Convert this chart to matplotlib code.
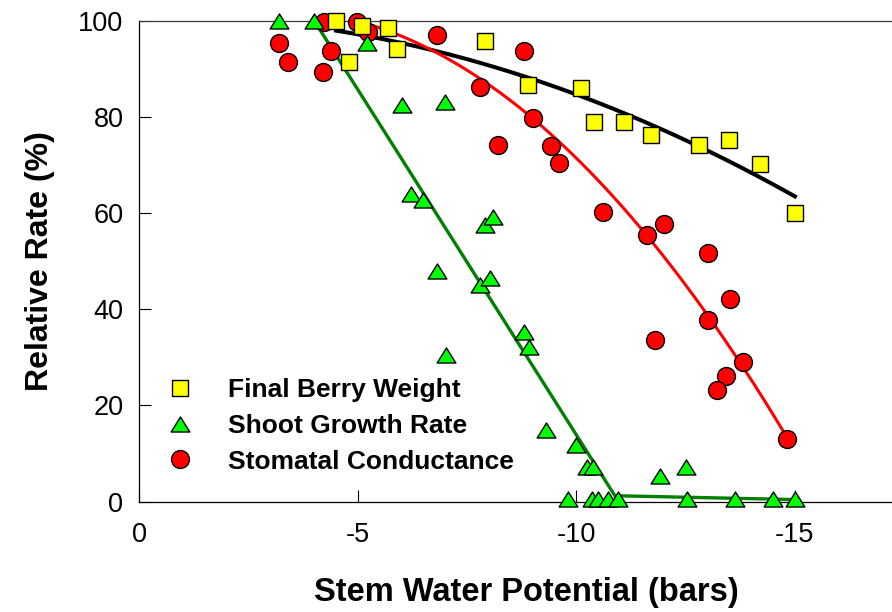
import matplotlib
matplotlib.use("Agg")
import matplotlib.pyplot as plt
import numpy as np
from matplotlib.path import Path

plt.rcParams["font.family"] = ["Liberation Sans", "DejaVu Sans"]

# Final berry weight (yellow squares)
berry_x = [-4.5, -4.8, -5.1, -5.7, -5.9, -7.9, -8.9, -10.1, -10.4, -11.1,
           -11.7, -12.8, -13.5, -14.2, -15.0]
berry_y = [100, 91.4, 99.0, 98.5, 94.2, 95.8, 86.6, 86.0, 79.0, 79.0,
           76.3, 74.1, 75.1, 70.1, 60.1]

# Shoot growth rate (green triangles)
shoot_x = [-3.2, -4.0, -5.2, -6.0, -7.0, -6.22, -6.5, -6.8, -7.02, -7.8,
           -8.02, -7.91, -8.1, -8.81, -8.91, -9.3, -10.0, -10.24, -10.39,
           -11.91, -12.51, -9.81, -10.35, -10.5, -10.73, -10.96, -12.52,
           -13.63, -14.5, -15.0]
shoot_y = [100, 100, 95.4, 82.4, 83.1, 64.0, 62.8, 48.0, 30.5, 45.1,
           46.5, 57.6, 59.2, 35.3, 32.2, 14.9, 11.7, 7.1, 7.1,
           5.3, 7.1, 0.5, 0.5, 0.5, 0.5, 0.5, 0.5,
           0.5, 0.5, 0.5]

# Stomatal conductance (red circles)
stoma_x = [-3.19, -3.4, -4.19, -4.39, -4.22, -4.97, -5.22, -6.8, -8.81, -7.8,
           -9.0, -8.21, -9.42, -9.61, -10.61, -11.62, -12.01, -13.02, -13.52,
           -13.02, -11.81, -13.82, -13.42, -13.22, -14.82]
stoma_y = [95.3, 91.5, 89.4, 93.7, 99.8, 99.8, 97.7, 97.0, 93.7, 86.2,
           79.8, 74.2, 73.9, 70.5, 60.3, 55.5, 57.7, 51.7, 42.1,
           37.8, 33.5, 29.1, 26.0, 23.2, 12.9]

# points on the published conductance regression curve
stoma_curve_x = [-5.96, -6.42, -7.41, -9.0, -11.72, -13.02, -13.82, -14.82]
stoma_curve_y = [96.8, 95.0, 90.5, 79.8, 53.8, 37.8, 29.1, 12.9]

# broken-stick fit for shoot growth
shoot_fit_x = [-4.0, -10.88, -15.0]
shoot_fit_y = [100, 1.2, 0.4]

x_ticks = [0, -5, -10, -15]
y_ticks = [0, 20, 40, 60, 80, 100]

fig = plt.figure(figsize=(8.92, 6.12), dpi=100)
ax = fig.add_axes([139.4 / 892, 110.5 / 612, 764.75 / 892, 480.8 / 612])

# quadratic curve for berry weight
bx = np.array(berry_x)
cb = np.polyfit(bx, berry_y, 2)
xb = np.linspace(bx.max(), bx.min(), 200)
ax.plot(xb, np.polyval(cb, xb), color="black", lw=2.9, zorder=2)

# quadratic curve for conductance, drawn over the range of the data
cs = np.polyfit(stoma_curve_x, stoma_curve_y, 2)
xs = np.linspace(max(stoma_x), min(stoma_x), 200)
ax.plot(xs, np.polyval(cs, xs), color="red", lw=2.2, zorder=2)

ax.plot(shoot_fit_x, shoot_fit_y, color="#008000", lw=2.4, zorder=2)

tri = Path([(0, 0.8), (-1, -0.8), (1, -0.8), (0, 0.8)], closed=True)

h_c, = ax.plot(stoma_x, stoma_y, "o", ms=12.9, mfc="red", mec="black",
               mew=1.0, ls="none", zorder=3, clip_on=False,
               label="Stomatal Conductance")
h_t, = ax.plot(shoot_x, shoot_y, marker=tri, ms=13.5, mfc="#00ff00",
               mec="black", mew=1.0, ls="none", zorder=4, clip_on=False,
               label="Shoot Growth Rate")
h_s, = ax.plot(berry_x, berry_y, "s", ms=11, mfc="yellow", mec="black",
               mew=1.0, ls="none", zorder=5, clip_on=False,
               label="Final Berry Weight")

ax.set_xlim(0, -17.5)
ax.set_ylim(0, 100)
ax.set_xticks(x_ticks)
ax.set_xticklabels([str(v) for v in x_ticks])
ax.set_yticks(y_ticks)

ax.spines["right"].set_visible(False)
ax.spines["top"].set_color("#3a3a3a")
for s in ("left", "bottom", "top"):
    ax.spines[s].set_linewidth(0.9)

ax.tick_params(direction="in", length=8.6, width=0.8, labelsize=19.5)
ax.tick_params(axis="x", pad=14.5)
ax.tick_params(axis="y", pad=11.5)

ax.set_xlabel("Stem Water Potential (bars)", fontsize=23.5,
              fontweight="bold")
ax.xaxis.set_label_coords(0.5063, -0.2063)
ax.xaxis.label.set_va("baseline")
ax.set_ylabel("Relative Rate (%)", fontsize=23, fontweight="bold",
              labelpad=17)

ax.legend([h_s, h_t, h_c],
          ["Final Berry Weight", "Shoot Growth Rate", "Stomatal Conductance"],
          loc="upper left", bbox_to_anchor=(0.036, 0.257), frameon=False,
          prop={"weight": "bold", "size": 19}, numpoints=1,
          handlelength=1.0, handletextpad=1.3, labelspacing=0.45,
          borderpad=0, borderaxespad=0)

fig.savefig("out.png", dpi=100)
